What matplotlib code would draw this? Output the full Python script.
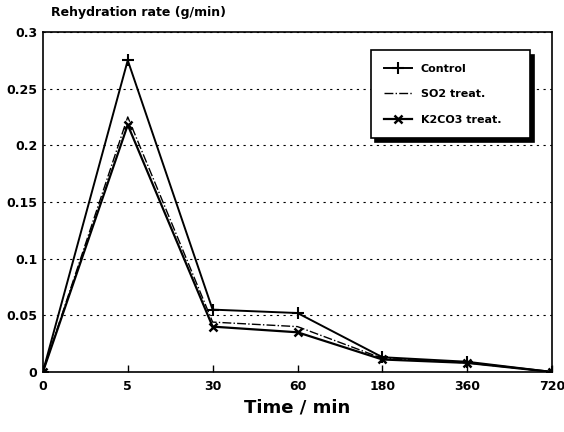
import numpy as np
import matplotlib
matplotlib.use("Agg")
import matplotlib.pyplot as plt

# Rehydration rate vs time (categorical time axis)
times = ["0", "5", "30", "60", "180", "360", "720"]
control = [0.0, 0.275, 0.055, 0.052, 0.013, 0.009, 0.0]
so2 = [0.0, 0.225, 0.044, 0.040, 0.012, 0.008, 0.0]
k2co3 = [0.0, 0.218, 0.040, 0.035, 0.011, 0.008, 0.0]

yticks = [0, 0.05, 0.1, 0.15, 0.2, 0.25, 0.3]
ytick_labels = ["0", "0.05", "0.1", "0.15", "0.2", "0.25", "0.3"]

plt.rcParams["font.family"] = ["DejaVu Sans"]
plt.rcParams["font.weight"] = "bold"

fig = plt.figure(figsize=(5.64, 4.32), dpi=100)
ax = fig.add_axes([0.076, 0.139, 0.903, 0.787])

x = np.arange(len(times))
ax.plot(x, control, "-", color="black", lw=1.4, marker="+", ms=8, mew=1.5,
        label="Control")
ax.plot(x, so2, "-.", color="black", lw=1.0, label="SO2 treat.")
ax.plot(x, k2co3, "-", color="black", lw=1.6, marker="x", ms=6, mew=1.8,
        label="K2CO3 treat.")

ax.set_xlim(0, len(times) - 1)
ax.set_ylim(0, 0.3)
ax.set_xticks(x)
ax.set_xticklabels(times, fontsize=9, fontweight="bold")
ax.set_yticks(yticks)
ax.set_yticklabels(ytick_labels, fontsize=9, fontweight="bold")
ax.tick_params(axis="x", direction="in", length=5, width=1, pad=6)
ax.tick_params(axis="y", length=0, pad=4)
for s in ax.spines.values():
    s.set_linewidth(1.2)

ax.yaxis.grid(True, linestyle=(0, (2, 4)), color="black", lw=0.8)

ax.set_xlabel("Time / min", fontsize=13, fontweight="bold", labelpad=4)
fig.text(0.09, 0.955, "Rehydration rate (g/min)", fontsize=9,
         fontweight="bold", ha="left", va="bottom")

leg = ax.legend(loc="upper left", bbox_to_anchor=(0.633, 0.71, 0.334, 0.252),
                mode="expand", frameon=True, fancybox=False,
                shadow={"color": "black", "alpha": 1, "ox": 3, "oy": -3},
                fontsize=8, handlelength=2.5, labelspacing=1.4,
                borderpad=1.2, edgecolor="black")
leg.get_frame().set_linewidth(1.2)
for t in leg.get_texts():
    t.set_fontweight("bold")

fig.savefig("out.png", dpi=100)
